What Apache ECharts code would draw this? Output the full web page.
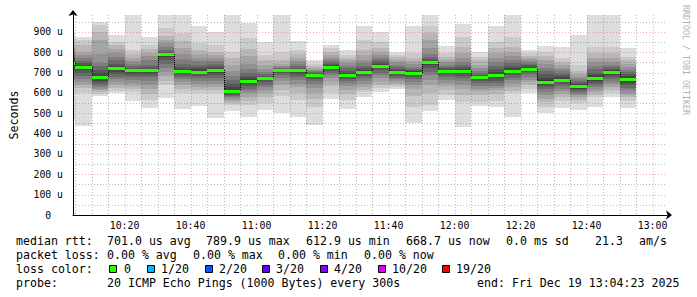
<!DOCTYPE html>
<html><head><meta charset="utf-8">
<script src="https://cdn.jsdelivr.net/npm/echarts@6/dist/echarts.min.js"></script>
<style>html,body{margin:0;padding:0;background:#fff}#c{width:697px;height:297px}</style>
</head><body><div id="c"></div>
<script>
// ---------- data ----------
const axisStart = '10:04:23';
const axisEnd = '13:04:23';
const barTimes = ['10:00','10:05','10:10','10:15','10:20','10:25','10:30','10:35','10:40','10:45','10:50','10:55',
  '11:00','11:05','11:10','11:15','11:20','11:25','11:30','11:35','11:40','11:45','11:50','11:55',
  '12:00','12:05','12:10','12:15','12:20','12:25','12:30','12:35','12:40','12:45','12:50'];
// 20 sorted ping RTTs (microseconds) per 5-minute step
const pingsSorted = [
  [470,615,635,650,665,680,695,710,725,740,752,762,772,785,800,815,830,850,870,900],
  [438,598,623,640,655,670,684,698,712,724,733,740,748,758,770,785,800,836,861,874],
  [585,596,605,615,622,630,640,650,660,670,685,700,715,735,746,790,860,901,934,948],
  [598,612,625,640,655,668,680,692,705,716,726,735,745,760,775,795,815,835,852,885],
  [562,606,620,635,650,665,678,690,700,708,714,718,725,735,745,755,770,790,811,1060],
  [526,566,595,620,640,660,678,690,700,708,714,720,728,740,760,780,795,815,836,874],
  [575,640,660,685,705,725,745,762,775,788,792,795,800,812,828,845,861,880,918,1050],
  [521,600,620,640,655,668,680,690,698,704,710,718,730,745,765,790,820,855,893,1050],
  [536,598,615,630,645,660,672,683,693,701,709,718,728,740,755,770,790,810,845,929],
  [477,600,615,630,645,660,675,688,698,708,714,722,732,745,758,770,785,800,836,898],
  [513,540,552,562,570,578,585,592,600,608,615,628,645,665,685,710,740,770,803,1050],
  [483,541,560,580,598,608,620,632,645,656,665,674,685,700,720,743,780,816,869,946],
  [516,551,580,600,616,628,640,652,662,669,676,680,686,695,705,720,738,760,787,849],
  [500,585,615,640,660,676,688,698,706,711,714,716,718,722,728,735,745,762,803,1050],
  [483,566,600,631,645,662,678,690,700,708,714,718,724,732,742,755,770,790,811,856],
  [444,533,570,600,625,645,660,670,678,684,690,693,697,702,708,715,722,732,745,762],
  [570,598,635,655,672,688,700,710,718,726,732,736,742,750,760,772,787,800,820,836],
  [521,565,595,615,635,648,660,670,678,685,692,700,710,722,735,748,762,770,787,811],
  [582,604,614,628,642,658,672,685,695,702,708,715,724,735,748,762,785,811,861,929],
  [606,625,640,655,672,688,700,712,722,730,737,742,750,760,772,787,800,820,852,898],
  [618,628,638,647,657,667,676,685,693,700,707,712,719,728,738,750,762,775,787,800],
  [454,533,585,620,640,655,668,680,690,698,702,706,712,720,730,742,755,772,795,929],
  [513,541,600,640,665,688,705,725,738,748,754,758,765,775,790,820,860,897,930,1050],
  [566,590,615,635,650,665,677,688,697,704,710,715,722,730,740,750,762,778,795,833],
  [434,557,590,620,640,657,672,685,695,703,711,718,726,738,752,770,795,828,877,941],
  [536,557,590,610,622,635,648,660,670,677,681,685,690,698,708,722,740,760,778,803],
  [533,560,595,614,625,636,648,660,672,682,693,705,718,733,750,770,795,820,852,929],
  [483,598,612,630,648,662,676,688,698,706,714,724,735,748,762,780,800,828,877,1050],
  [598,620,638,652,666,680,692,702,710,717,723,729,736,744,752,762,772,783,795,811],
  [500,533,555,572,590,605,618,628,638,648,662,675,692,708,725,742,760,780,803,833],
  [528,560,580,595,608,620,632,642,652,660,669,678,688,700,712,725,738,752,770,828],
  [516,550,566,578,588,597,605,613,622,630,637,642,650,660,670,680,692,706,738,887],
  [533,582,592,604,616,628,640,650,660,670,679,688,700,718,732,750,770,795,828,1050],
  [579,600,615,630,644,656,668,680,690,699,706,711,718,728,738,752,770,795,828,1050],
  [528,560,582,592,602,614,626,638,650,662,673,682,692,703,715,728,742,760,778,823]
];
const medianRtt = [746,730,677,721,711,711,790,707,705,711,611,660,672,713,711,687,729,688,705,733,703,700,751,707,707,679,687,710,720,654,664,633,674,702,667];
const yTickValues = [0,100,200,300,400,500,600,700,800,900];
const yTickLabels = ['0\u00a0\u00a0','100 u','200 u','300 u','400 u','500 u','600 u','700 u','800 u','900 u'];
const xTickLabels = ['10:20','10:40','11:00','11:20','11:40','12:00','12:20','12:40','13:00'];
const yMax = 983.6;
const stepMinutes = 5;

// ---------- helpers ----------
function tm(s){ const p=s.split(':').map(Number); return p[0]*60+p[1]+(p[2]||0)/60; }
const xMin = tm(axisStart), xMax = tm(axisEnd);
const smokeColors = ['#dddddd','#cacaca','#b7b7b7','#a4a4a4','#919191','#7e7e7e','#6b6b6b','#585858','#454545','#323232'];
const barData = barTimes.map((t,i)=>[tm(t), tm(t)+stepMinutes, medianRtt[i]]);

// grid lines: vertical every 5 min, horizontal every 50 u
const gridItems = [];
for (let m = Math.ceil(xMin/5)*5; m < xMax; m += 5) gridItems.push(['v', m, m % 20 === 0]);
for (let v = 50; v < yMax; v += 50) gridItems.push(['h', v, v % 100 === 0]);

const FONT = 'DejaVu Sans Mono';
const chart = echarts.init(document.getElementById('c'), null, {renderer:'svg'});

function clipR(r, cs){ return echarts.graphic.clipRectByRect(r, {x:cs.x,y:cs.y,width:cs.width,height:cs.height}); }

const legendY = [241, 255, 269, 283];
const txt = (x, y, s, extra) => Object.assign({type:'text', x, y, style:{text:s, fill:'#000', font:'11.6px "'+FONT+'"', verticalAlign:'middle', align:'left'}, silent:true}, extra||{});
const lossColors = [['0','#26ff00',109,124],['1/20','#00b8ff',147,161],['2/20','#0059ff',205,219],['3/20','#5e00ff',262,276],['4/20','#7e00ff',320,334],['10/20','#dd00ff',378,392],['19/20','#ff0000',442,456]];
const graphics = [
  txt(16, legendY[0], 'median rtt:'), txt(107, legendY[0], '701.0 us avg'), txt(206, legendY[0], '789.9 us max'),
  txt(306, legendY[0], '612.9 us min'), txt(406, legendY[0], '668.7 us now'), txt(506, legendY[0], '0.0 ms sd'),
  txt(595, legendY[0], '21.3'), txt(639, legendY[0], 'am/s'),
  txt(16, legendY[1], 'packet loss:'), txt(107, legendY[1], '0.00 % avg'), txt(193, legendY[1], '0.00 % max'),
  txt(278, legendY[1], '0.00 % min'), txt(364, legendY[1], '0.00 % now'),
  txt(16, legendY[2], 'loss color:'),
  txt(16, legendY[3], 'probe:'), txt(107, legendY[3], '20 ICMP Echo Pings (1000 Bytes) every 300s'),
  txt(477, legendY[3], 'end: Fri Dec 19 13:04:23 2025'),
  {type:'text', x:686, y:5, rotation:-Math.PI/2, silent:true,
   style:{text:'RRDTOOL / TOBI OETIKER', fill:'#b0b0b0', font:'8.3px "'+FONT+'"', align:'left', verticalAlign:'middle'}}
];
lossColors.forEach(([lab,col,bx,tx])=>{
  graphics.push({type:'rect', shape:{x:bx+0.5,y:265.5,width:7,height:7}, style:{fill:col, stroke:'#000', lineWidth:1}, silent:true});
  graphics.push(txt(tx, legendY[2], lab));
});

chart.setOption({
  animation:false,
  backgroundColor:'#ffffff',
  grid:{left:67, top:15, width:600, height:200, containLabel:false},
  xAxis:{type:'value', min:xMin, max:xMax, z:5,
    axisLine:{show:true, onZero:false, symbol:['none','arrow'], symbolSize:[7,6], symbolOffset:[0,5], lineStyle:{color:'#000', width:1}},
    axisTick:{show:false},
    splitLine:{show:false},
    axisLabel:{customValues: xTickLabels.map(tm), formatter:(v)=>{const h=Math.floor(Math.round(v)/60), m=Math.round(v)%60; return h+':'+String(m).padStart(2,'0');},
      color:'#000', fontFamily:FONT, fontSize:9.8, margin:5}
  },
  yAxis:{type:'value', min:0, max:yMax, interval:100, z:5,
    name:'Seconds', nameLocation:'middle', nameGap:53, nameRotate:90,
    nameTextStyle:{fontFamily:FONT, fontSize:11.6, color:'#000'},
    axisLine:{show:true, symbol:['none','arrow'], symbolSize:[7,6], symbolOffset:[0,5], lineStyle:{color:'#000', width:1}},
    axisTick:{show:false}, splitLine:{show:false},
    axisLabel:{color:'#000', fontFamily:FONT, fontSize:9.8, margin:10,
      formatter:(v)=>{const i=yTickValues.indexOf(Math.round(v)); return (i>=0 && Math.abs(v-Math.round(v))<1e-6)? yTickLabels[i] : '';}}
  },
  graphic: graphics,
  series:[
    { type:'custom', name:'smoke', z:2, data:barData, clip:true,
      renderItem:(params, api)=>{
        const i = params.dataIndex, cs = params.coordSys, p = pingsSorted[i];
        const x0 = Math.round(Math.max(api.coord([api.value(0),0])[0], cs.x));
        const x1 = Math.round(Math.min(api.coord([api.value(1),0])[0], cs.x+cs.width));
        const children = [];
        for (let k=0;k<10;k++){
          const yT = Math.round(api.coord([api.value(0), p[19-k]])[1]);
          const yB = Math.round(api.coord([api.value(0), p[k]])[1]);
          const r = clipR({x:x0, y:yT, width:x1-x0, height:yB-yT}, cs);
          if (r && r.width>0 && r.height>0) children.push({type:'rect', shape:r, style:{fill:smokeColors[k]}});
        }
        return {type:'group', children};
      }},
    { type:'custom', name:'grid', z:3, data:gridItems.map((g,i)=>[g[0]==='v'?g[1]:xMin, g[0]==='h'?g[1]:0]), silent:true,
      renderItem:(params, api)=>{
        const g = gridItems[params.dataIndex], cs = params.coordSys;
        const col = g[2] ? 'rgba(230,70,70,0.42)' : 'rgba(90,90,90,0.42)';
        if (g[0]==='v'){
          const x = Math.round(api.coord([g[1],0])[0]) + 0.5;
          return {type:'line', shape:{x1:x,y1:cs.y,x2:x,y2:cs.y+cs.height}, style:{stroke:col, lineWidth:1, lineDash:[1,2]}};
        }
        const y = Math.round(api.coord([xMin,g[1]])[1]) + 0.5;
        return {type:'line', shape:{x1:cs.x,y1:y,x2:cs.x+cs.width,y2:y}, style:{stroke:col, lineWidth:1, lineDash:[1,2]}};
      }},
    { type:'custom', name:'median', z:4, data:barData,
      renderItem:(params, api)=>{
        const i = params.dataIndex, cs = params.coordSys;
        const x0 = Math.round(Math.max(api.coord([api.value(0),0])[0], cs.x));
        const x1 = Math.round(Math.min(api.coord([api.value(1),0])[0], cs.x+cs.width));
        const ym = Math.round(api.coord([api.value(0), api.value(2)])[1]);
        const children = [];
        if (i>0){
          const yp = Math.round(api.coord([api.value(0), medianRtt[i-1]])[1]);
          children.push({type:'line', shape:{x1:x0+0.5,y1:Math.min(yp,ym),x2:x0+0.5,y2:Math.max(yp,ym)}, style:{stroke:'#000', lineWidth:1, lineDash:[1,1]}});
        }
        children.push({type:'rect', shape:{x:x0, y:ym-1, width:x1-x0, height:3}, style:{fill:'#26ff00'}});
        return {type:'group', children};
      }}
  ]
});
</script></body></html>
